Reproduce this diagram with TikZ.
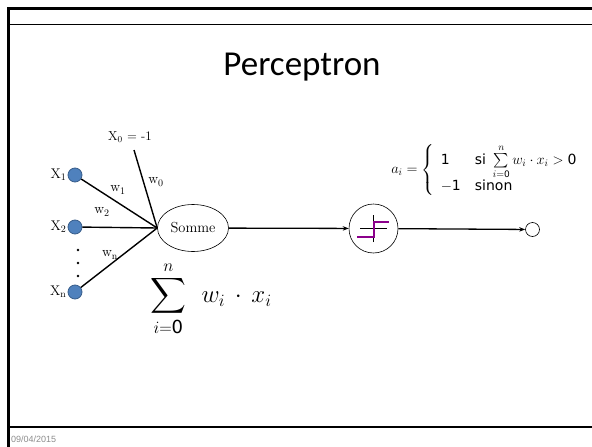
\documentclass[tikz,border=0pt]{standalone}
\usepackage{fontspec}
\usepackage{amsmath}
\usetikzlibrary{shapes.geometric,arrows.meta,positioning}
\newfontfamily\titlefont{Carlito}
\newfontfamily\vsans{DejaVu Sans}
\newfontfamily\datefont{Liberation Sans}
\definecolor{inblue}{HTML}{4F81BD}
\definecolor{inedge}{HTML}{385D8A}
\definecolor{stepcol}{HTML}{8B008B}
\definecolor{dategray}{HTML}{8C8C8C}
\begin{document}
\begin{tikzpicture}[x=1pt,y=-1pt,
  inp/.style={circle,fill=inblue,draw=inedge,line width=0.8pt,minimum size=14pt,inner sep=0pt},
  lbl/.style={inner sep=1pt,font=\fontsize{14}{16}\selectfont},
  wl/.style={inner sep=0pt,font=\fontsize{14}{16}\selectfont},
  wire/.style={line width=1.4pt,black},
  arr/.style={line width=1.3pt,-{Stealth[length=6pt,width=4.5pt]}},
  framethick/.style={line width=3pt,black},
]
\useasboundingbox (0,0) rectangle (592,447);
% slide frame
\draw[framethick] (7,8.5) -- (592,8.5);
\draw[line width=1pt] (7,24) -- (592,24);
\draw[line width=2pt] (7,427) -- (592,427);
\draw[framethick] (8.5,7) -- (8.5,447);
\node[anchor=base west,inner sep=0pt,text=dategray,font=\datefont\fontsize{9}{10}\selectfont] (date) at (11,442) {09/04/2015};
% title
\node[anchor=base,inner sep=0pt,font=\titlefont\fontsize{35}{40}\selectfont] (title) at (302,75) {Perceptron};
% inputs
\node[inp] (x1) at (75,175) {};
\node[inp] (x2) at (75,227) {};
\node[inp] (xn) at (75,292) {};
\node[lbl,left=0pt of x1] (x1l) {X$_1$};
\node[lbl,left=0pt of x2] (x2l) {X$_2$};
\node[lbl,left=0pt of xn] (xnl) {X$_{\mathrm{n}}$};
\foreach \yy/\nm in {250/d1,263/d2,276/d3}{\fill (78,\yy) circle (1.3pt) coordinate (\nm);}
% sum node
\node[ellipse,draw,line width=0.6pt,minimum width=71pt,minimum height=47pt,inner sep=0pt,font=\fontsize{14.5}{16}\selectfont] (som) at (193,228) {Somme};
\coordinate (x0) at (134,150);
\node[inner sep=1pt,font=\fontsize{13}{15}\selectfont] (x0l) at (130,137) {X$_0$ = -1};
\draw[wire] (x0) -- (som.west);
\draw[wire] (x1) -- (som.west);
\draw[wire] (x2) -- (som.west);
\draw[wire] (xn) -- (som.west);
\node[wl] (w0) at (156,182) {w$_0$};
\node[wl] (w1) at (118,190) {w$_1$};
\node[wl] (w2) at (102,212) {w$_2$};
\node[wl] (wn) at (110,255) {w$_{\mathrm{n}}$};
% big sum
\node[inner sep=0pt,font=\fontsize{26}{30}\selectfont] (bigsum) at (211,299) {$\displaystyle\sum_{i=\mbox{\vsans\fontsize{18}{20}\selectfont 0}}^{n}\;\, w_i\,\cdot\, x_i$};
% activation
\node[circle,draw,line width=0.6pt,minimum size=49pt,inner sep=0pt] (act) at (373.5,228.5) {};
\draw[line width=1pt] ([xshift=-13.5pt]act.center) -- ([xshift=13.5pt]act.center);
\draw[line width=1pt] ([yshift=-13.5pt]act.center) -- ([yshift=13.5pt]act.center);
\draw[stepcol,line width=2pt] ([xshift=-16.5pt,yshift=-8.5pt]act.center) -- ([xshift=0.5pt,yshift=-8.5pt]act.center) -- ([xshift=0.5pt,yshift=6.5pt]act.center) -- ([xshift=15.5pt,yshift=6.5pt]act.center);
\node[circle,draw,line width=0.6pt,minimum size=14pt,inner sep=0pt] (out) at (532.5,229.5) {};
\draw[arr] (som) -- (act);
\draw[arr] (act) -- (out);
% formula
\node[inner sep=0pt,font=\fontsize{14}{16}\selectfont] (formula) at (487,170) {$a_i=\left\{\begin{array}{@{\;\,}l@{\quad}l}\mbox{\vsans 1} & \mbox{\vsans si }\sum\limits_{i=\mbox{\vsans\fontsize{9}{10}\selectfont 0}}^{n} w_i\cdot x_i>\mbox{\vsans 0}\\[1pt] -\mbox{\vsans 1} & \mbox{\vsans sinon}\end{array}\right.$};
\end{tikzpicture}
\end{document}
